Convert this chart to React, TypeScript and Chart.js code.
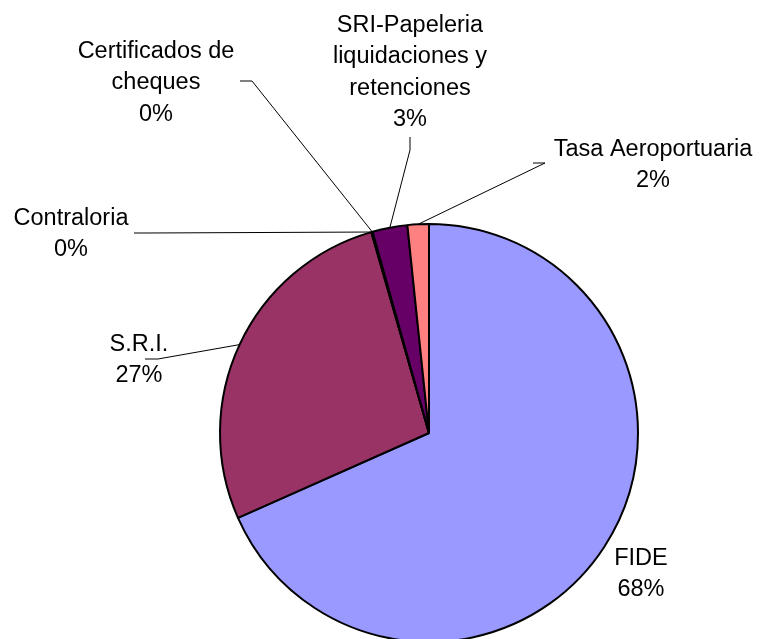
import React, { useEffect, useRef } from "react";
import { Chart, registerables } from "chart.js";

Chart.register(...registerables);

// ---- Data ----
const categories = [
  "FIDE",
  "S.R.I.",
  "Contraloria",
  "Certificados de cheques",
  "SRI-Papeleria liquidaciones y retenciones",
  "Tasa Aeroportuaria",
];
const labelLines = [
  ["FIDE"],
  ["S.R.I."],
  ["Contraloria"],
  ["Certificados de", "cheques"],
  ["SRI-Papeleria", "liquidaciones y", "retenciones"],
  ["Tasa Aeroportuaria"],
];
const values = [68.35, 27.2, 0.05, 0.05, 2.7, 1.65];
const colors = ["#9999FF", "#993366", "#FFFFCC", "#CCFFFF", "#660066", "#FF8080"];

// ---- Layout for data labels (text centre x, first baseline y, leader stub) ----
type Pt = [number, number];
const labelLayout: { x: number; y: number; leader: Pt[] | null }[] = [
  { x: 641, y: 565, leader: null },
  { x: 139, y: 351, leader: [[145, 359], [158, 359]] },
  { x: 71, y: 225, leader: [[134, 233], [146, 233]] },
  { x: 156, y: 58, leader: [[240, 81], [252, 81]] },
  { x: 410, y: 32, leader: [[410, 137], [410, 150]] },
  { x: 653, y: 156, leader: [[533, 163], [545, 163]] },
];
const LINE_H = 31.3;
const FONT = '23.5px "Liberation Sans", Arial, sans-serif';

const labelPlugin = {
  id: "pieLabels",
  afterDatasetsDraw(chart: any) {
    const ctx = chart.ctx;
    const meta = chart.getDatasetMeta(0);
    const data = chart.data.datasets[0].data as number[];
    const total = data.reduce((a, b) => a + b, 0);
    ctx.save();
    ctx.strokeStyle = "#000";
    ctx.lineWidth = 1;
    meta.data.forEach((arc: any, i: number) => {
      const lay = labelLayout[i];
      if (!lay || !lay.leader) return;
      const p = arc.getProps(["x", "y", "startAngle", "endAngle", "outerRadius"], true);
      const mid = (p.startAngle + p.endAngle) / 2;
      const ex = p.x + Math.cos(mid) * p.outerRadius;
      const ey = p.y + Math.sin(mid) * p.outerRadius;
      ctx.beginPath();
      ctx.moveTo(lay.leader[0][0], lay.leader[0][1]);
      for (let k = 1; k < lay.leader.length; k++) ctx.lineTo(lay.leader[k][0], lay.leader[k][1]);
      ctx.lineTo(ex, ey);
      ctx.stroke();
    });
    ctx.fillStyle = "#000";
    ctx.font = FONT;
    ctx.textAlign = "center";
    ctx.textBaseline = "alphabetic";
    labelLines.forEach((lines, i) => {
      const lay = labelLayout[i];
      const pct = Math.round((data[i] / total) * 100) + "%";
      const all = [...lines, pct];
      all.forEach((t, k) => ctx.fillText(t, lay.x, lay.y + k * LINE_H));
    });
    ctx.restore();
  },
};

export default function App() {
  const ref = useRef<HTMLCanvasElement | null>(null);
  useEffect(() => {
    if (!ref.current) return;
    const chart = new Chart(ref.current, {
      type: "pie",
      data: {
        labels: categories,
        datasets: [
          {
            data: values,
            backgroundColor: colors,
            borderColor: "#000",
            borderWidth: 2,
            clip: false as any,
          } as any,
        ],
      },
      options: {
        responsive: false,
        animation: false,
        radius: 209,
        layout: { padding: { left: 95, right: 0, top: 227, bottom: 0 } },
        plugins: {
          legend: { display: false },
          tooltip: { enabled: false },
          title: { display: false },
        },
      } as any,
      plugins: [labelPlugin],
    });
    return () => chart.destroy();
  }, []);
  return (
    <div style={{ position: "absolute", left: 0, top: 0, width: 763, height: 639, background: "#fff" }}>
      <canvas ref={ref} width={763} height={639} style={{ display: "block" }} />
    </div>
  );
}
